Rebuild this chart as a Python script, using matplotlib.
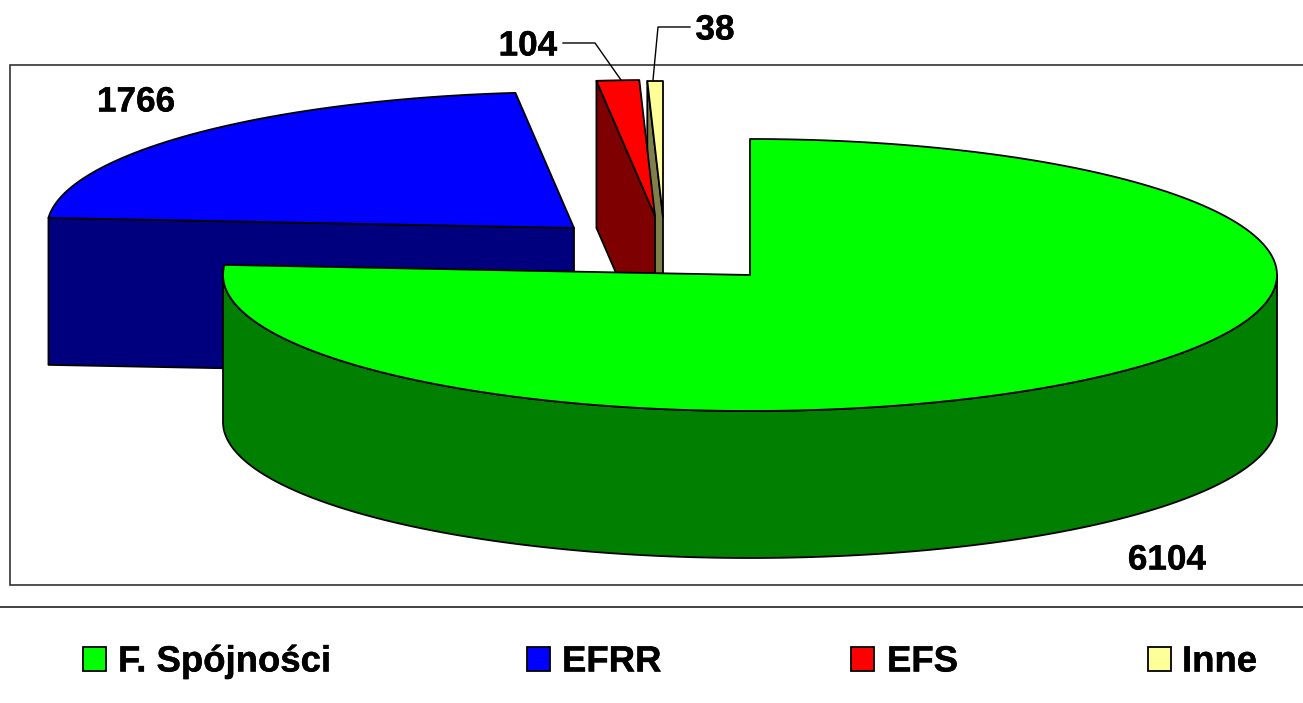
import numpy as np
import matplotlib
matplotlib.use('Agg')
import matplotlib.pyplot as plt
import matplotlib.patheffects as pe
from matplotlib.patches import Polygon, Rectangle

plt.rcParams['font.family'] = ['Liberation Sans', 'DejaVu Sans']

categories = ['F. Spójności', 'EFRR', 'EFS', 'Inne']
values = [6104, 1766, 104, 38]
top_colors = ['#00FF00', '#0000FF', '#FF0000', '#FFFF99']
side_colors = ['#007F00', '#00007F', '#7F0000', '#7F7F4C']

# exploded slice centres in pixels
centers = [(750, 275), (574, 228), (655, 216), (663, 217)]
rx, ry = 527, 136
depth = 147

W, H = 1303, 703
fig = plt.figure(figsize=(W / 100, H / 100), dpi=100)
ax = fig.add_axes([0, 0, 1, 1])
ax.set_xlim(0, W)
ax.set_ylim(H, 0)
ax.axis('off')

# chart frame and separator
ax.add_patch(Rectangle((10, 65), W, 519.5, fc='white', ec='#222222', lw=1.1))
ax.plot([0, W], [607, 607], color='#222222', lw=1.2)


def arc(c, a, b, n=200):
    t = np.radians(np.linspace(a, b, n))
    return np.column_stack([c[0] + rx * np.sin(t), c[1] - ry * np.cos(t)])


angles = np.cumsum([0] + values) / sum(values) * 360
edge = dict(ec='black', lw=1.3, joinstyle='round')

# back to front: Inne, EFS, EFRR, F. Spojnosci
for i in [3, 2, 1, 0]:
    c = centers[i]
    a, b = angles[i], angles[i + 1]
    down = np.array([0, depth])
    # cut face at the start of the slice
    if i > 0:
        p = arc(c, a, a, 1)[0]
        face = np.array([p, c, np.array(c) + down, p + down])
        ax.add_patch(Polygon(face, fc=side_colors[i], **edge))
    else:
        # outer wall of the big slice, front half only
        front = arc(c, 90, 270)
        wall = np.vstack([front, (front + down)[::-1]])
        ax.add_patch(Polygon(wall, fc=side_colors[i], **edge))
    top = np.vstack([[c], arc(c, a, b)])
    ax.add_patch(Polygon(top, fc=top_colors[i], **edge))

heavy = [pe.withStroke(linewidth=0.3, foreground='black')]

# data labels
label_pos = [(1167, 560), (136, 102), (528, 46), (715, 30)]
for v, (x, y) in zip(values, label_pos):
    ax.text(x, y, str(v), fontsize=25.3, fontweight='bold', ha='center', va='center',
            color='black', path_effects=heavy)

# leader lines
ax.plot([563, 595, 621], [43, 43, 80], color='black', lw=1.0)
ax.plot([690, 658, 653], [27, 27, 80], color='black', lw=1.0)

# legend
swatch_x = [83, 527, 851, 1148]
text_x = [118, 562, 887, 1182]
for name, col, sx, tx in zip(categories, top_colors, swatch_x, text_x):
    ax.add_patch(Rectangle((sx, 647), 23, 24, fc=col, ec='black', lw=1.3))
    ax.text(tx, 662, name, fontsize=26.3, fontweight='bold', ha='left', va='center',
            color='black', path_effects=heavy)

fig.savefig('out.png', dpi=100)
